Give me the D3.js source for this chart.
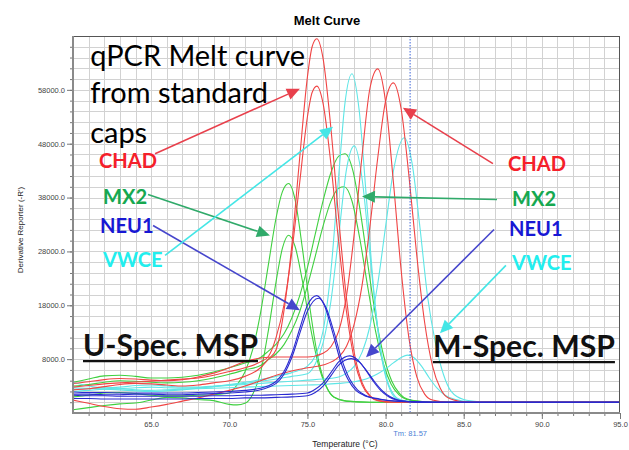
<!DOCTYPE html>
<html>
<head>
<meta charset="utf-8">
<script src="https://cdn.jsdelivr.net/npm/d3@7"></script>
<style>
  html, body { margin: 0; padding: 0; background: #fff; }
  svg { display: block; }
</style>
</head>
<body>
<svg id="chart" width="629" height="450"></svg>
<script>
// melt curves, [temperature °C, derivative reporter -R']
const chadU1 = [[60,2300],[61,2500],[62,2900],[63,3300],[64,3500],[65,3400],[66,3200],[67,3000],[68,3200],[69,3600],[70,4000],[71,4800],[72,6400],[72.5,8000],[73,9800],[73.5,17000],[74,29100],[74.5,45200],[75,60400],[75.3,66000],[75.6,67500],[76,63850],[76.5,50960],[77,34150],[77.5,19290],[78,9130],[78.5,3640],[79,1220],[79.5,340],[80.5,0],[85,0],[95,0]]
const chadU2 = [[60,2800],[61,3100],[62,3400],[63,3600],[64,3750],[65,3900],[66,4100],[67,4300],[68,4500],[69,5000],[70,5700],[71,6400],[72,7500],[72.5,8500],[73,12100],[73.5,18100],[74,27800],[74.5,40650],[75,53000],[75.3,57500],[75.6,58700],[76,55500],[76.5,44300],[77,29700],[77.5,16800],[78,7900],[78.5,3200],[79,1100],[79.5,300],[80.5,0],[85,0],[95,0]]
const chadM1 = [[60,3500],[61,3800],[62,4200],[63,4400],[64,4300],[65,4100],[66,4000],[67,4200],[68,4700],[69,5400],[70,6400],[71,7500],[72,8200],[73,8400],[74,8400],[75,8400],[76,9100],[76.5,10300],[77,13200],[77.5,19800],[78,31400],[78.5,45900],[79,58300],[79.5,61900],[80,55800],[80.5,40900],[81,24400],[81.5,11800],[82,4700],[82.5,1500],[83,400],[84,0],[95,0]]
const chadM2 = [[60,400],[61,-200],[62,-800],[63,-1200],[64,-1300],[65,-900],[66,-400],[67,200],[68,800],[69,1500],[70,2200],[71,3000],[72,4000],[73,5000],[74,5800],[75,6400],[76,6900],[77,8400],[77.5,10400],[78,14600],[78.5,21800],[79,32700],[79.5,45400],[80,55900],[80.5,59300],[81,54400],[81.5,41900],[82,27150],[82.5,14800],[83,6760],[83.5,2600],[84,830],[85,100],[86,0],[95,0]]

const vwceU1 = [[60,3700],[61,3000],[62,2700],[63,2800],[64,3100],[65,3200],[66,3000],[67,2800],[68,2800],[69,3000],[70,3300],[71,3700],[72,4200],[73,4800],[74,5500],[75,6700],[75.5,8600],[76,13200],[76.5,24300],[77,42000],[77.4,55500],[77.85,61000],[78.3,54500],[78.8,37000],[79.3,19000],[79.8,7450],[80.3,2200],[80.8,500],[82,0],[95,0]]
const vwceU2 = [[60,2000],[61,2200],[62,2400],[63,2300],[64,2100],[65,2000],[66,2100],[67,2300],[68,2600],[69,2900],[70,3200],[71,3500],[72,3900],[73,4300],[74,4800],[75,5300],[75.5,7100],[76,11000],[76.5,18700],[77,30850],[77.5,43250],[78,47600],[78.5,41450],[79,27350],[79.5,13700],[80,5200],[80.5,1500],[81,400],[82,0],[95,0]]
const vwceM1 = [[60,2700],[61,2600],[62,2400],[63,2500],[64,2700],[65,2800],[66,2700],[67,2600],[68,2700],[69,2900],[70,3100],[71,3300],[72,3500],[73,3700],[74,3900],[75,4100],[76,4300],[77,4700],[77.5,5400],[78,6700],[78.5,9300],[79,14150],[79.5,22000],[80,32600],[80.5,42900],[81.2,49100],[81.7,44300],[82.2,32450],[82.7,19350],[83.2,10900],[83.7,5200],[84.2,2000],[85,500],[86,100],[87,0],[95,0]]
const vwceM2 = [[60,2400],[61,2500],[62,2600],[63,2500],[64,2300],[65,2200],[66,2300],[67,2400],[68,2500],[69,2600],[70,2700],[71,2800],[72,2900],[73,3000],[74,3100],[75,3200],[76,3300],[77,3500],[78,3800],[78.5,4100],[79,4600],[79.5,5300],[80,6200],[80.5,7300],[81,8300],[81.4,8740],[81.8,8300],[82.3,6700],[82.8,4500],[83.3,2600],[83.8,1300],[84.5,500],[85.5,100],[87,0],[95,0]]

const mx2M1 = [[60,3700],[61,4300],[62,4900],[63,5000],[64,4800],[65,4500],[66,4500],[67,4650],[68,5000],[69,5600],[70,6400],[71,7300],[72,8300],[72.5,9500],[73,10800],[73.5,12700],[74,15650],[74.5,19760],[75,25000],[75.5,31200],[76,37400],[76.5,42600],[77,45700],[77.4,46150],[77.9,43100],[78.4,35100],[78.9,24900],[79.4,15400],[79.9,8350],[80.4,3900],[80.9,1600],[81.4,580],[82.5,100],[84,0],[95,0]]
const mx2M2 = [[60,3000],[61,3300],[62,3700],[63,4000],[64,3900],[65,3700],[66,3600],[67,3700],[68,4000],[69,4500],[70,5200],[71,6000],[72,6800],[72.5,7900],[73,9000],[73.5,10700],[74,13300],[74.5,16800],[75,21600],[75.5,27100],[76,32700],[76.5,37300],[77,39750],[77.35,40000],[77.85,37360],[78.35,30400],[78.85,21560],[79.35,13360],[79.85,7240],[80.35,3400],[80.85,1400],[81.35,500],[82.5,100],[84,0],[95,0]]
const mx2U1 = [[60,1000],[61,1300],[62,1700],[63,1800],[64,1600],[65,1300],[66,1200],[67,1200],[68,1300],[69,1400],[70,1700],[70.5,3250],[71,5600],[71.5,9800],[72,16600],[72.5,25500],[73,34300],[73.4,39100],[73.8,40600],[74.2,37760],[74.7,28100],[75.2,16700],[75.7,7900],[76.2,3000],[76.7,900],[77.5,200],[79,0],[95,0]]
const mx2U2 = [[60,-1400],[61,-1000],[62,-600],[63,-300],[64,-150],[65,400],[66,900],[67,800],[68,500],[69,300],[70,-400],[70.5,-500],[71,-200],[71.5,1500],[72,5500],[72.5,13300],[73,22500],[73.4,28600],[73.8,31000],[74.2,29000],[74.7,22200],[75.2,13800],[75.7,7000],[76.2,2900],[76.7,960],[77.5,200],[79,0],[95,0]]

const neu1U1 = [[60,1900],[61,1800],[62,1800],[63,1700],[64,1700],[65,1700],[66,1700],[67,1700],[68,1800],[69,1900],[70,2000],[71,2200],[72,2600],[72.5,3050],[73,3900],[73.5,5700],[74,9000],[74.5,13600],[75,18000],[75.6,19800],[76.1,17860],[76.6,13100],[77.1,7800],[77.6,4200],[78.1,2200],[78.6,1300],[79.5,600],[81,150],[83,0],[95,0]]
const neu1U2 = [[60,1500],[61,1500],[62,1400],[63,1400],[64,1500],[65,1500],[66,1400],[67,1400],[68,1500],[69,1600],[70,1700],[71,1900],[72,2300],[72.5,2800],[73,3500],[73.5,5200],[74,8300],[74.5,12700],[75,16900],[75.7,19300],[76.2,17500],[76.7,13000],[77.2,7900],[77.7,4300],[78.2,2300],[78.7,1300],[79.6,600],[81,150],[83,0],[95,0]]
const neu1M1 = [[60,1300],[61,1200],[62,1200],[63,1100],[64,1100],[65,1100],[66,1100],[67,1100],[68,1100],[69,1200],[70,1200],[71,1300],[72,1300],[73,1400],[74,1500],[75,1700],[75.5,2400],[76,3600],[76.5,5500],[77,7500],[77.7,8600],[78.2,7900],[78.7,6100],[79.2,3950],[79.7,2150],[80.2,1000],[80.7,400],[81.5,100],[83,0],[95,0]]
const neu1M2 = [[60,700],[61,700],[62,600],[63,600],[64,600],[65,600],[66,600],[67,600],[68,700],[69,700],[70,700],[71,800],[72,800],[73,900],[74,1000],[75,1200],[75.5,1800],[76,3000],[76.5,4900],[77,6900],[77.8,8100],[78.3,7500],[78.8,5800],[79.3,3800],[79.8,2100],[80.3,1000],[80.8,400],[81.6,100],[83,0],[95,0]]

const xTicks = [65, 70, 75, 80, 85, 90, 95]
const yTicks = [8000, 18000, 28000, 38000, 48000, 58000]
const tm = 81.57

const series = [
  { gene: "MX2", pts: mx2M1 }, { gene: "MX2", pts: mx2M2 },
  { gene: "MX2", pts: mx2U1 }, { gene: "MX2", pts: mx2U2 },
  { gene: "VWCE", pts: vwceU1 }, { gene: "VWCE", pts: vwceU2 },
  { gene: "VWCE", pts: vwceM1 }, { gene: "VWCE", pts: vwceM2 },
  { gene: "CHAD", pts: chadU1 }, { gene: "CHAD", pts: chadU2 },
  { gene: "CHAD", pts: chadM1 }, { gene: "CHAD", pts: chadM2 },
  { gene: "NEU1", pts: neu1U1 }, { gene: "NEU1", pts: neu1U2 },
  { gene: "NEU1", pts: neu1M1 }, { gene: "NEU1", pts: neu1M2 }
]

const curveColor = { CHAD: "#f04444", MX2: "#3fd03f", VWCE: "#5ee6e6", NEU1: "#2a2ad0" }
const labelColor = { CHAD: "#f5202a", MX2: "#16a850", VWCE: "#22eeee", NEU1: "#1818d4" }
const arrowColor = { CHAD: "#e8404c", MX2: "#30aa6a", VWCE: "#44e6e6", NEU1: "#4646cc" }

// annotation overlay, placed in data units
const genes = ["CHAD", "MX2", "NEU1", "VWCE"]
const leftLabels = [[61.66, 43560], [61.92, 36890], [61.73, 31330], [61.92, 25040]]
const rightLabels = [[87.83, 43000], [88.09, 36520], [87.9, 30780], [88.09, 24480]]
const arrows = [
  { gene: "CHAD", from: [65.25, 46150], to: [74.52, 58190] },
  { gene: "MX2", from: [64.8, 38560], to: [72.6, 30960] },
  { gene: "NEU1", from: [65.12, 32815], to: [74.52, 17075] },
  { gene: "VWCE", from: [65.89, 27260], to: [76.64, 51150] },
  { gene: "CHAD", from: [86.87, 44300], to: [81.11, 54670] },
  { gene: "MX2", from: [87.13, 37630], to: [78.49, 38190] },
  { gene: "NEU1", from: [86.94, 32075], to: [78.75, 8370] },
  { gene: "VWCE", from: [87.7, 25410], to: [83.48, 12815] }
]

const width = 629, height = 450
const margin = { top: 36, right: 9, bottom: 37, left: 73 }

const svg = d3.select("#chart")

const x = d3.scaleLinear().domain([60, 95]).range([margin.left, width - margin.right])
const y = d3.scaleLinear().domain([-2000, 68000]).range([height - margin.bottom, margin.top])

const plotW = width - margin.left - margin.right
const plotH = height - margin.top - margin.bottom

// grid
const grid = svg.append("g").attr("stroke", "#d2d2d2").attr("stroke-width", 1)
grid.selectAll("line.v")
  .data(d3.range(61, 95))
  .join("line")
  .attr("x1", d => Math.round(x(d)) + 0.5).attr("x2", d => Math.round(x(d)) + 0.5)
  .attr("y1", margin.top).attr("y2", height - margin.bottom)
grid.selectAll("line.h")
  .data(d3.range(0, 68000, 2000))
  .join("line")
  .attr("y1", d => Math.round(y(d)) + 0.5).attr("y2", d => Math.round(y(d)) + 0.5)
  .attr("x1", margin.left).attr("x2", width - margin.right)

// axes
const yMinor = svg.append("g")
  .attr("transform", `translate(${margin.left},0)`)
  .call(d3.axisLeft(y).tickValues(d3.range(0, 68000, 2000)).tickSize(3).tickFormat(""))
const yAxis = svg.append("g")
  .attr("transform", `translate(${margin.left},0)`)
  .call(d3.axisLeft(y).tickValues(yTicks).tickSize(6).tickPadding(2).tickFormat(d => d.toFixed(1)))
const xMinor = svg.append("g")
  .attr("transform", `translate(0,${height - margin.bottom})`)
  .call(d3.axisBottom(x).tickValues(d3.range(61, 96)).tickSize(3).tickFormat(""))
const xAxis = svg.append("g")
  .attr("transform", `translate(0,${height - margin.bottom})`)
  .call(d3.axisBottom(x).tickValues(xTicks).tickSize(6).tickPadding(3).tickFormat(d => d.toFixed(1)))

for (const ax of [yMinor, yAxis, xMinor, xAxis]) {
  ax.select(".domain").remove()
  ax.selectAll(".tick line").attr("stroke", "#777")
  ax.selectAll("text")
    .attr("font-family", "Liberation Sans, Arial, sans-serif")
    .attr("font-size", 7.5)
    .attr("fill", "#444")
}

// curves
svg.append("clipPath").attr("id", "plot")
  .append("rect").attr("x", margin.left).attr("y", margin.top).attr("width", plotW).attr("height", plotH)

const line = d3.line()
  .x(d => x(d[0]))
  .y(d => y(d[1]))
  .curve(d3.curveMonotoneX)

svg.append("g")
  .attr("clip-path", "url(#plot)")
  .selectAll("path")
  .data(series)
  .join("path")
  .attr("d", d => line(d.pts))
  .attr("fill", "none")
  .attr("stroke", d => curveColor[d.gene])
  .attr("stroke-width", 1.1)

// Tm marker
svg.append("line")
  .attr("x1", x(tm)).attr("x2", x(tm))
  .attr("y1", margin.top).attr("y2", height - margin.bottom)
  .attr("stroke", "#3b63d8").attr("stroke-width", 1).attr("stroke-dasharray", "1.5,1.5")
svg.append("text")
  .attr("x", x(tm)).attr("y", height - margin.bottom + 23)
  .attr("text-anchor", "middle")
  .attr("font-family", "Liberation Sans, Arial, sans-serif")
  .attr("font-size", 7.5).attr("fill", "#4a7fd6")
  .text("Tm: " + tm.toFixed(2))

// frame
svg.append("rect")
  .attr("x", margin.left + 0.5).attr("y", margin.top + 0.5)
  .attr("width", plotW - 1).attr("height", plotH - 1)
  .attr("fill", "none").attr("stroke", "#555")
svg.append("path")
  .attr("d", `M${margin.left},${margin.top}V${height - margin.bottom}H${width - margin.right}`)
  .attr("fill", "none").attr("stroke", "#8a8a8a").attr("stroke-width", 2)

// titles
svg.append("text")
  .attr("x", 327).attr("y", 25)
  .attr("text-anchor", "middle")
  .attr("font-family", "Liberation Sans, Arial, sans-serif")
  .attr("font-size", 13).attr("font-weight", "bold")
  .text("Melt Curve")
svg.append("text")
  .attr("x", 345).attr("y", 447)
  .attr("text-anchor", "middle")
  .attr("font-family", "Liberation Sans, Arial, sans-serif")
  .attr("font-size", 8.5).attr("fill", "#222")
  .text("Temperature (°C)")
svg.append("text")
  .attr("transform", "translate(23,230) rotate(-90)")
  .attr("text-anchor", "middle")
  .attr("font-family", "Liberation Sans, Arial, sans-serif")
  .attr("font-size", 8).attr("fill", "#222")
  .text("Derivative Reporter (-R')")

// overlay annotations
function fit(sel, target) {
  const base = +sel.attr("font-size")
  const w = sel.node().getComputedTextLength()
  const size = base * target / w
  sel.attr("font-size", size)
  return size
}

const ann = svg.append("g").attr("font-family", "Lato, 'Open Sans', sans-serif")

const head = ann.append("text")
  .attr("x", x(61.1)).attr("y", y(62450))
  .attr("font-size", 30).text("qPCR Melt curve")
const headSize = fit(head, 215)
ann.append("text").attr("x", x(61.1)).attr("y", y(55590)).attr("font-size", headSize).text("from standard")
ann.append("text").attr("x", x(61.1)).attr("y", y(48190)).attr("font-size", headSize).text("caps")

const probe = ann.append("text").attr("font-size", 20).attr("font-weight", "bold").text("CHAD")
const geneSize = fit(probe, 58)
probe.remove()

genes.forEach((g, i) => {
  for (const pos of [leftLabels[i], rightLabels[i]]) {
    ann.append("text")
      .attr("x", x(pos[0])).attr("y", y(pos[1]))
      .attr("font-size", geneSize).attr("font-weight", "bold")
      .attr("fill", labelColor[g])
      .text(g)
  }
})

arrows.forEach(a => {
  const x0 = x(a.from[0]), y0 = y(a.from[1])
  const x1 = x(a.to[0]), y1 = y(a.to[1])
  const ang = Math.atan2(y1 - y0, x1 - x0)
  const len = 13, half = 6
  const bx = x1 - len * Math.cos(ang), by = y1 - len * Math.sin(ang)
  ann.append("line")
    .attr("x1", x0).attr("y1", y0).attr("x2", bx).attr("y2", by)
    .attr("stroke", arrowColor[a.gene]).attr("stroke-width", 1.6)
  ann.append("path")
    .attr("d", `M${x1},${y1}L${bx - half * Math.sin(ang)},${by + half * Math.cos(ang)}L${bx + half * Math.sin(ang)},${by - half * Math.cos(ang)}Z`)
    .attr("fill", arrowColor[a.gene])
})

const specs = [
  { text: "U-Spec. MSP", pos: [60.64, 8560], w: 175 },
  { text: "M-Spec. MSP", pos: [83.03, 8370], w: 182 }
]
specs.forEach(s => {
  const t = ann.append("text")
    .attr("x", x(s.pos[0])).attr("y", y(s.pos[1]))
    .attr("font-size", 30).attr("font-weight", "bold").attr("fill", "#111")
    .text(s.text)
  fit(t, s.w)
  ann.append("line")
    .attr("x1", x(s.pos[0])).attr("x2", x(s.pos[0]) + s.w)
    .attr("y1", y(s.pos[1]) + 5).attr("y2", y(s.pos[1]) + 5)
    .attr("stroke", "#111").attr("stroke-width", 2.2)
})
</script>
</body>
</html>
